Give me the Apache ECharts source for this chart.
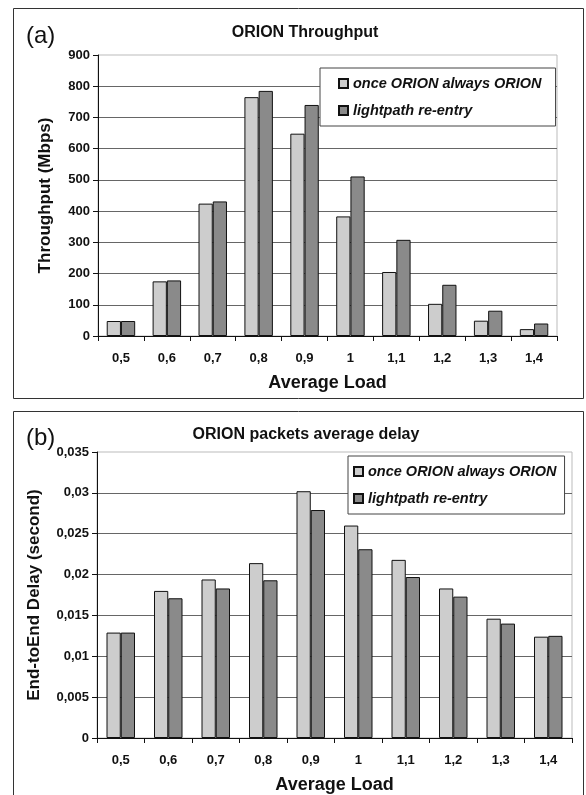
<!DOCTYPE html>
<html>
<head>
<meta charset="utf-8">
<script src="https://cdn.jsdelivr.net/npm/echarts@6/dist/echarts.min.js"></script>
<style>
html,body{margin:0;padding:0;background:#fff;}
#c{width:586px;height:795px;}
</style>
</head>
<body>
<div id="c"></div>
<script>
const categories = ['0,5','0,6','0,7','0,8','0,9','1','1,1','1,2','1,3','1,4'];
const seriesNames = ['once ORION always ORION', 'lightpath re-entry'];
const throughputOnce = [48, 175, 424, 765, 648, 383, 205, 103, 49, 22];
const throughputReentry = [48, 178, 431, 785, 740, 511, 308, 164, 81, 40];
const delayOnce = [0.0129, 0.0180, 0.0194, 0.0214, 0.0302, 0.0260, 0.0218, 0.0183, 0.0146, 0.0124];
const delayReentry = [0.0129, 0.0171, 0.0183, 0.0193, 0.0279, 0.0231, 0.0197, 0.0173, 0.0140, 0.0125];
const throughputTicks = { min: 0, max: 900, interval: 100 };
const delayTicks = { min: 0, max: 0.035, interval: 0.005 };

const FONT = '"Liberation Sans", Arial, sans-serif';
const LIGHT = '#cdcdcd';
const DARK = '#8a8a8a';

function fmt(v) {
  if (v === 0) return '0';
  return String(+v.toFixed(3)).replace('.', ',');
}

const chart = echarts.init(document.getElementById('c'), null, {renderer: 'canvas'});

function splitColors(n) {
  const arr = [];
  for (let i = 0; i < n; i++) arr.push('#666');
  arr[n - 1] = 'rgba(0,0,0,0)';
  return arr;
}

function xAxisCfg(gridIndex) {
  return {
    type: 'category', gridIndex: gridIndex, data: categories,
    axisLine: {lineStyle: {color: '#111', width: 1}},
    axisTick: {show: true, length: 5, lineStyle: {color: '#111'}},
    axisLabel: {color: '#111', fontFamily: FONT, fontWeight: 'bold', fontSize: 13, margin: 16},
    name: 'Average Load', nameLocation: 'middle', nameGap: 38,
    nameTextStyle: {color: '#111', fontFamily: FONT, fontWeight: 'bold', fontSize: 18}
  };
}

function yAxisCfg(gridIndex, ticks, name, nameGap) {
  const n = Math.round((ticks.max - ticks.min) / ticks.interval) + 1;
  return {
    type: 'value', gridIndex: gridIndex, min: ticks.min, max: ticks.max, interval: ticks.interval,
    axisLine: {show: true, lineStyle: {color: '#111', width: 1}},
    axisTick: {show: true, length: 5, lineStyle: {color: '#111'}},
    axisLabel: {color: '#111', fontFamily: FONT, fontWeight: 'bold', fontSize: 13, margin: 8, formatter: fmt},
    splitLine: {show: true, lineStyle: {color: splitColors(n), width: 1}},
    name: name, nameLocation: 'middle', nameGap: nameGap,
    nameTextStyle: {color: '#111', fontFamily: FONT, fontWeight: 'bold', fontSize: 17}
  };
}

function legendCfg(left, top, padding) {
  return {
    data: seriesNames, orient: 'vertical', left: left, top: top,
    backgroundColor: '#fff', borderColor: '#444', borderWidth: 1,
    padding: padding, itemGap: 12, itemWidth: 9, itemHeight: 9,
    icon: 'rect',
    textStyle: {color: '#111', fontFamily: FONT, fontStyle: 'italic', fontWeight: 'bold', fontSize: 14.5}
  };
}

function barSeries(name, data, color, idx, gap) {
  return {
    type: 'bar', name: name, data: data, xAxisIndex: idx, yAxisIndex: idx,
    barGap: '0%', barCategoryGap: gap,
    itemStyle: {color: color, borderColor: '#111', borderWidth: 1},
    emphasis: {disabled: true}
  };
}

chart.setOption({
  animation: false,
  backgroundColor: '#fff',
  title: [
    {text: 'ORION Throughput', left: 300, top: 20, textAlign: 'center',
     textStyle: {fontFamily: FONT, fontWeight: 'bold', fontSize: 16, color: '#111'}},
    {text: '(a)', left: 21, top: 19,
     textStyle: {fontFamily: FONT, fontWeight: 'normal', fontSize: 24, color: '#111'}},
    {text: 'ORION packets average delay', left: 301, top: 422, textAlign: 'center',
     textStyle: {fontFamily: FONT, fontWeight: 'bold', fontSize: 16, color: '#111'}},
    {text: '(b)', left: 21, top: 421,
     textStyle: {fontFamily: FONT, fontWeight: 'normal', fontSize: 24, color: '#111'}}
  ],
  legend: [
    legendCfg(320, 68, [8, 14, 8, 18]),
    legendCfg(348, 456, [8, 8, 8, 5])
  ],
  grid: [
    {left: 98, top: 55, width: 459, height: 281, show: true, borderColor: '#bbb', borderWidth: 1, backgroundColor: 'transparent'},
    {left: 97, top: 452, width: 475, height: 287, show: true, borderColor: '#bbb', borderWidth: 1, backgroundColor: 'transparent'}
  ],
  xAxis: [xAxisCfg(0), xAxisCfg(1)],
  yAxis: [
    yAxisCfg(0, throughputTicks, 'Throughput (Mbps)', 44),
    yAxisCfg(1, delayTicks, 'End-toEnd Delay (second)', 54)
  ],
  series: [
    barSeries(seriesNames[0], throughputOnce, LIGHT, 0, '38%'),
    barSeries(seriesNames[1], throughputReentry, DARK, 0, '38%'),
    barSeries(seriesNames[0], delayOnce, LIGHT, 1, '40%'),
    barSeries(seriesNames[1], delayReentry, DARK, 1, '40%')
  ],
  graphic: [
    {type: 'rect', shape: {x: 13.5, y: 8.5, width: 570, height: 390}, style: {fill: 'none', stroke: '#333', lineWidth: 1}, silent: true, z: -1},
    {type: 'rect', shape: {x: 13.5, y: 411.5, width: 570, height: 400}, style: {fill: 'none', stroke: '#333', lineWidth: 1}, silent: true, z: -1}
  ]
});
</script>
</body>
</html>
